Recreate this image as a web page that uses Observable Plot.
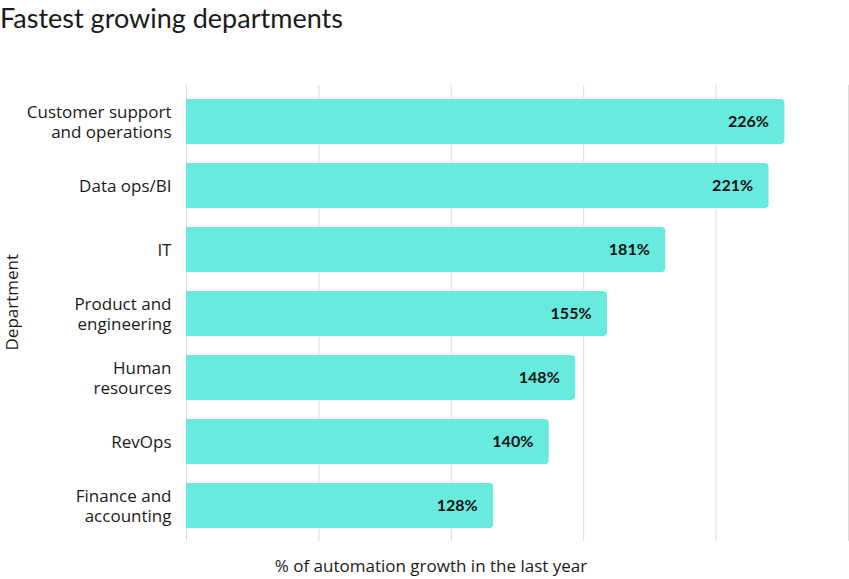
<!DOCTYPE html>
<html>
<head>
<meta charset="utf-8">
<script src="https://cdn.jsdelivr.net/npm/d3@7"></script>
<script src="https://cdn.jsdelivr.net/npm/@observablehq/plot@0.6"></script>
<style>
  html, body { margin: 0; padding: 0; background: #fff; }
  body { width: 849px; height: 579px; overflow: hidden; font-family: Lato, "Noto Sans", sans-serif; color: #1a1a1a; }
  #title { height: 40px; line-height: 36px; font-size: 27px; font-weight: 400; padding-left: 0; white-space: nowrap; }
  #caption { height: 27px; line-height: 27px; font-size: 17px; font-family: "Open Sans", sans-serif; text-align: center; padding-left: 13px; box-sizing: border-box; width: 849px; }
  #chart svg { display: block; }
</style>
</head>
<body>
<div id="title">Fastest growing departments</div>
<div id="chart"></div>
<div id="caption">% of automation growth in the last year</div>
<script>
// Departments (top to bottom)
const departments = [
  "Customer support\nand operations",
  "Data ops/BI",
  "IT",
  "Product and\nengineering",
  "Human\nresources",
  "RevOps",
  "Finance and\naccounting"
];
// Bar lengths as drawn (percent growth)
const barValues = [226, 220, 181, 159, 147, 137, 116];
// Printed value labels
const valueLabels = ["226%", "221%", "181%", "155%", "148%", "140%", "128%"];
// Gridline ticks (no labels shown)
const gridTicks = [0, 50, 100, 150, 200, 250];

const data = departments.map((d, i) => ({dept: d, value: barValues[i], label: valueLabels[i]}));

const barColor = "#68eadf";

const chart = Plot.plot({
  width: 849,
  height: 512,
  marginLeft: 186,
  marginRight: 1,
  marginTop: 45,
  marginBottom: 11,
  style: {fontFamily: "'Open Sans', sans-serif", fontSize: "17px", color: "#1a1a1a", background: "#fff"},
  x: {domain: [0, 250], axis: null},
  y: {domain: departments, paddingInner: 0.297, paddingOuter: 0.2, axis: null},
  marks: [
    Plot.gridX(gridTicks, {stroke: "#dcdcdc", strokeOpacity: 1, strokeWidth: 1}),
    Plot.barX(data, {y: "dept", x: "value", fill: barColor, rx: 4}),
    Plot.barX(data, {y: "dept", x: d => d.value / 2, fill: barColor}),
    Plot.text(data, {
      y: "dept", x: "value", text: "label",
      textAnchor: "end", dx: -16, fontSize: 16, fontWeight: "bold", fill: "#111",
      fontFamily: "Lato, sans-serif"
    }),
    Plot.axisY({
      tickSize: 0, tickPadding: 15, fontSize: 17, lineHeight: 1.18,
      label: null, fill: "#1a1a1a"
    }),
    Plot.text(["Department"], {
      frameAnchor: "left", rotate: -90, dx: -174, dy: 37,
      fontSize: 17, fill: "#1a1a1a"
    })
  ]
});
document.getElementById("chart").appendChild(chart);
</script>
</body>
</html>
